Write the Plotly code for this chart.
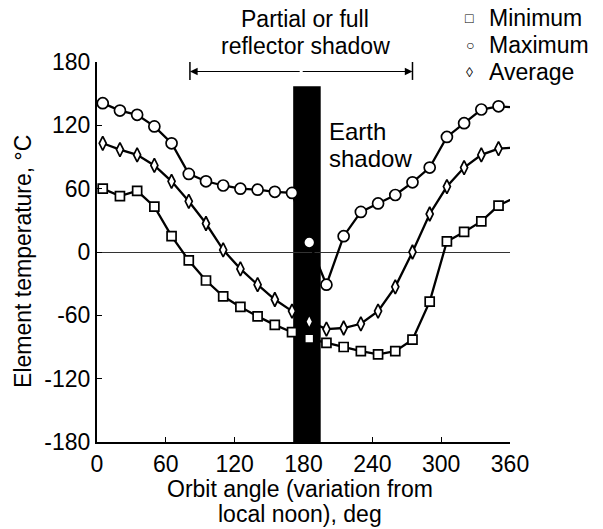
import plotly.graph_objects as go

# Orbit angle of each sample point, deg
angle = [5, 20, 35, 50, 65, 80, 95, 110, 125, 140, 155, 170, 185,
         200, 215, 230, 245, 260, 275, 290, 305, 320, 335, 350, 365]

# Element temperatures, deg C
t_min = [60, 53, 58, 43, 15, -8, -27, -42, -52, -61, -69, -76, -82,
         -86, -90, -94, -97, -94, -83, -47, 10, 19, 29, 44, 52]
t_max = [141, 134, 130, 119, 103, 74, 67, 63, 60, 59, 57, 56, 9,
         -31, 15, 38, 46, 54, 66, 80, 109, 122, 135, 138, 137]
t_avg = [103, 97, 92, 82, 67, 48, 27, 2, -16, -31, -45, -56, -66,
         -73, -72, -68, -56, -33, 0, 36, 62, 80, 92, 98, 99]

x_ticks = [0, 60, 120, 180, 240, 300, 360]
y_ticks = [-180, -120, -60, 0, 60, 120, 180]
y_tick_text = ["-180", "-120", "-60", "0", "60", "120", "180"]

# Earth shadow band and reflector shadow span, deg
earth_shadow = (171, 195)
earth_shadow_top = 157
reflector_span = (81, 275)
reflector_y = 171

FONT = "Liberation Sans, Arial, Helvetica, sans-serif"

fig = go.Figure()

series = [
    ("Maximum", t_max, "circle", 11),
    ("Average", t_avg, "diamond-tall", 10),
    ("Minimum", t_min, "square", 9),
]
for name, vals, sym, size in series:
    fig.add_trace(go.Scatter(
        x=angle, y=vals, mode="lines+markers", name=name, showlegend=False,
        line=dict(color="black", width=2.3),
        marker=dict(symbol=sym, size=size, color="white",
                    line=dict(color="black", width=1.7)),
        cliponaxis=False,
    ))

# Earth shadow band
fig.add_shape(type="rect", xref="x", yref="y",
              x0=earth_shadow[0], x1=earth_shadow[1],
              y0=-180, y1=earth_shadow_top,
              fillcolor="black", line=dict(width=0), layer="below")

# Reflector shadow bracket
mid = (reflector_span[0] + reflector_span[1]) / 2
for end in reflector_span:
    fig.add_annotation(x=end, y=reflector_y, ax=mid, ay=reflector_y,
                       xref="x", yref="y", axref="x", ayref="y",
                       showarrow=True, arrowhead=2, arrowsize=1.4,
                       arrowwidth=1.1, arrowcolor="black", text="")
    fig.add_shape(type="line", xref="x", yref="y", x0=end, x1=end,
                  y0=reflector_y - 8, y1=reflector_y + 9,
                  line=dict(color="black", width=1.5))

def label(text, x, y, size, xanchor="center", **kw):
    fig.add_annotation(text=text, x=x, y=y, xref="paper", yref="paper",
                       xanchor=xanchor, yanchor="middle", showarrow=False,
                       font=dict(family=FONT, size=size, color="black"), **kw)

label("Partial or full", 0.504, 1.113, 23)
label("reflector shadow", 0.504, 1.042, 23)
label("Earth", 0.557, 0.818, 24, xanchor="left")
label("shadow", 0.557, 0.747, 24, xanchor="left")

# Legend
legend_rows = [("\u25a1", "Minimum", 1.116), ("\u25cb", "Maximum", 1.045),
               ("\u25ca", "Average", 0.974)]
for glyph, text, yy in legend_rows:
    label(glyph, 0.903, yy, 14)
    label(text, 0.944, yy, 23, xanchor="left")

# Axis titles
label("Element temperature, \u00b0C", -0.179, 0.474, 23, textangle=-90)
label("Orbit angle (variation from", 0.492, -0.124, 23)
label("local noon), deg", 0.492, -0.190, 23)

fig.update_xaxes(range=[0, 360], tickvals=x_ticks, ticks="inside", ticklen=5,
                 tickwidth=1, tickcolor="black", showline=True, linecolor="black",
                 linewidth=2, showgrid=False, zeroline=False,
                 tickfont=dict(family=FONT, size=23, color="black"))
fig.update_yaxes(range=[-180, 180], tickvals=y_ticks, ticktext=y_tick_text,
                 ticks="inside", ticklen=5, tickwidth=1, tickcolor="black",
                 showline=True, linecolor="black", linewidth=2, showgrid=False,
                 zeroline=True, zerolinecolor="#333333", zerolinewidth=1,
                 tickfont=dict(family=FONT, size=23, color="black"))

fig.update_layout(width=603, height=529, plot_bgcolor="white",
                  paper_bgcolor="white", showlegend=False,
                  margin=dict(l=97, r=93, t=62, b=87))

fig.write_html("out.html")
